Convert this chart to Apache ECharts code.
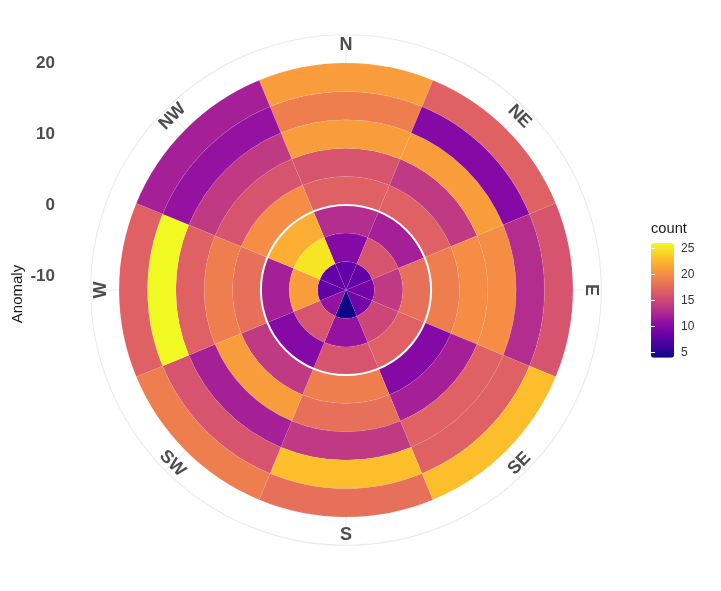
<!DOCTYPE html>
<html>
<head>
<meta charset="utf-8">
<script src="https://cdn.jsdelivr.net/npm/echarts@6/dist/echarts.min.js"></script>
<style>
html, body { margin: 0; padding: 0; background: #ffffff; }
#chart { width: 721px; height: 591px; }
</style>
</head>
<body>
<div id="chart"></div>
<script>
// ---------------- data ----------------
const directions = ['N', 'NE', 'E', 'SE', 'S', 'SW', 'W', 'NW'];
const directionAngles = [0, 45, 90, 135, 180, 225, 270, 315];
const anomalyBins = [-10, -6, -2, 2, 6, 10, 14, 18];   // bin centres (width 4)
const binWidth = 4;
const sectorWidth = 45;

// counts per direction, from the innermost bin (-10) outwards (18)
const countN  = [8, 10, 13, 17, 16, 21, 19, 21];
const countNE = [8, 16, 12, 17, 14, 21, 10, 17];
const countE  = [9, 14, 18, 19, 20, 20, 13, 16];
const countSE = [9, 15, 17, 10, 12, 17, 17, 23];
const countS  = [4, 11, 16, 19, 18, 14, 23, 18];
const countSW = [11, 16, 10, 14, 21, 12, 16, 19];
const countW  = [8, 21, 12, 18, 19, 17, 26, 17];
const countNW = [8, 25, 22, 20, 16, 14, 11, 12];

const anomalyTicks = [-10, 0, 10, 20];
const countTicks = [5, 10, 15, 20, 25];
const countMin = 4;
const countMax = 26;
const referenceAnomaly = [0];

// ---------------- build ----------------
const countsByDirection = [countN, countNE, countE, countSE, countS, countSW, countW, countNW];
const tileData = [];
countsByDirection.forEach(function (arr, d) {
  arr.forEach(function (c, b) {
    tileData.push([anomalyBins[b], directionAngles[d], c]);
  });
});

const radiusMin = -12;      // axis start at centre
const radiusMax = 24;       // outer frame circle
const labelRadius = 22.6;   // where direction labels sit
const labelData = directionAngles.map(function (a) { return [labelRadius, a]; });

const plasma = ['#0d0887', '#41049d', '#6a00a8', '#8f0da4', '#b12a90', '#cc4778',
                '#e16462', '#f2844b', '#fca636', '#fcce25', '#f0f921'];
const fontFamily = '"Liberation Sans", Arial, sans-serif';

const chart = echarts.init(document.getElementById('chart'), null, { renderer: 'canvas' });

function renderTile(params, api) {
  const r = api.value(0), a = api.value(1);
  const c = api.coord([r, a]);
  const size = api.size([binWidth, sectorWidth], [r, a]);
  return {
    type: 'sector',
    shape: {
      cx: params.coordSys.cx,
      cy: params.coordSys.cy,
      r0: c[2] - size[0] / 2,
      r: c[2] + size[0] / 2,
      startAngle: -(c[3] + size[1] / 2),
      endAngle: -(c[3] - size[1] / 2),
      clockwise: true
    },
    style: {
      fill: api.visual('color'),
      stroke: 'rgba(255,255,255,0.12)',
      lineWidth: 0.5
    }
  };
}

function renderRefCircle(params, api) {
  const c = api.coord([api.value(0), 0]);
  return {
    type: 'arc',
    shape: { cx: params.coordSys.cx, cy: params.coordSys.cy, r: c[2], startAngle: 0, endAngle: Math.PI * 2 },
    style: { stroke: '#ffffff', lineWidth: 2, fill: null }
  };
}

function renderLabel(params, api) {
  const theta = api.value(1);
  const c = api.coord([api.value(0), theta]);
  let rotDeg = -theta;
  if (theta > 90 && theta < 270) rotDeg += 180;
  return {
    type: 'text',
    x: c[0],
    y: c[1],
    rotation: rotDeg * Math.PI / 180,
    style: {
      text: directions[params.dataIndex],
      fill: '#4d4d4d',
      font: 'bold 18px ' + fontFamily,
      align: 'center',
      verticalAlign: 'middle'
    }
  };
}

const option = {
  backgroundColor: '#ffffff',
  animation: false,
  polar: { center: [346, 290], radius: 255.3 },
  angleAxis: {
    type: 'value', min: 0, max: 360, interval: 45,
    startAngle: 90, clockwise: true,
    axisLine: { show: true, lineStyle: { color: '#ebebeb', width: 1.1 } },
    axisTick: { show: false },
    axisLabel: { show: false },
    splitLine: { show: true, lineStyle: { color: '#ebebeb', width: 1.1 } }
  },
  radiusAxis: {
    type: 'value', min: radiusMin, max: radiusMax,
    axisLine: { show: false }, axisTick: { show: false },
    axisLabel: { show: false }, splitLine: { show: false }
  },
  grid: [
    { left: 60, top: 290 - 255.3, width: 10, height: 255.3 },
    { left: 651, top: 243.3, width: 23, height: 114.4 }
  ],
  xAxis: [
    { gridIndex: 0, type: 'value', show: false },
    { gridIndex: 1, type: 'value', show: false }
  ],
  yAxis: [
    {
      gridIndex: 0, type: 'value', min: radiusMin, max: radiusMax,
      axisLine: { show: false }, axisTick: { show: false }, splitLine: { show: false },
      axisLabel: {
        customValues: anomalyTicks, margin: 5,
        color: '#4d4d4d', fontSize: 17, fontWeight: 'bold', fontFamily: fontFamily
      }
    },
    {
      gridIndex: 1, type: 'value', position: 'right', min: countMin, max: countMax, z: 10,
      axisLine: { show: false }, splitLine: { show: false },
      axisTick: { show: true, inside: true, length: 4, customValues: countTicks,
                  lineStyle: { color: '#ffffff', width: 1 } },
      axisLabel: { customValues: countTicks, margin: 7, color: '#333333', fontSize: 12, fontFamily: fontFamily }
    },
    {
      gridIndex: 1, type: 'value', position: 'left', min: countMin, max: countMax, z: 10,
      axisLine: { show: false }, splitLine: { show: false },
      axisTick: { show: true, inside: true, length: 4, customValues: countTicks,
                  lineStyle: { color: '#ffffff', width: 1 } },
      axisLabel: { show: false }
    }
  ],
  visualMap: {
    type: 'continuous', min: countMin, max: countMax, dimension: 2, seriesIndex: 0,
    calculable: false, hoverLink: false, orient: 'vertical',
    left: 651, top: 243.3, itemWidth: 23, itemHeight: 114.4, padding: 0,
    inRange: { color: plasma }
  },
  graphic: [
    {
      type: 'text', x: 18, y: 294, rotation: Math.PI / 2,
      style: { text: 'Anomaly', fill: '#1a1a1a', font: '15px ' + fontFamily, align: 'center', verticalAlign: 'middle' }
    },
    {
      type: 'text', x: 651, y: 229,
      style: { text: 'count', fill: '#1a1a1a', font: '14.67px ' + fontFamily, align: 'left', verticalAlign: 'middle' }
    }
  ],
  series: [
    {
      type: 'custom', coordinateSystem: 'polar', silent: true, z: 2,
      encode: { radius: 0, angle: 1 },
      renderItem: renderTile,
      data: tileData
    },
    {
      type: 'custom', coordinateSystem: 'polar', silent: true, z: 3,
      encode: { radius: 0 },
      renderItem: renderRefCircle,
      data: referenceAnomaly.map(function (v) { return [v, 0]; })
    },
    {
      type: 'custom', coordinateSystem: 'polar', silent: true, z: 4,
      encode: { radius: 0, angle: 1 },
      renderItem: renderLabel,
      data: labelData
    }
  ]
};

chart.setOption(option);
</script>
</body>
</html>
